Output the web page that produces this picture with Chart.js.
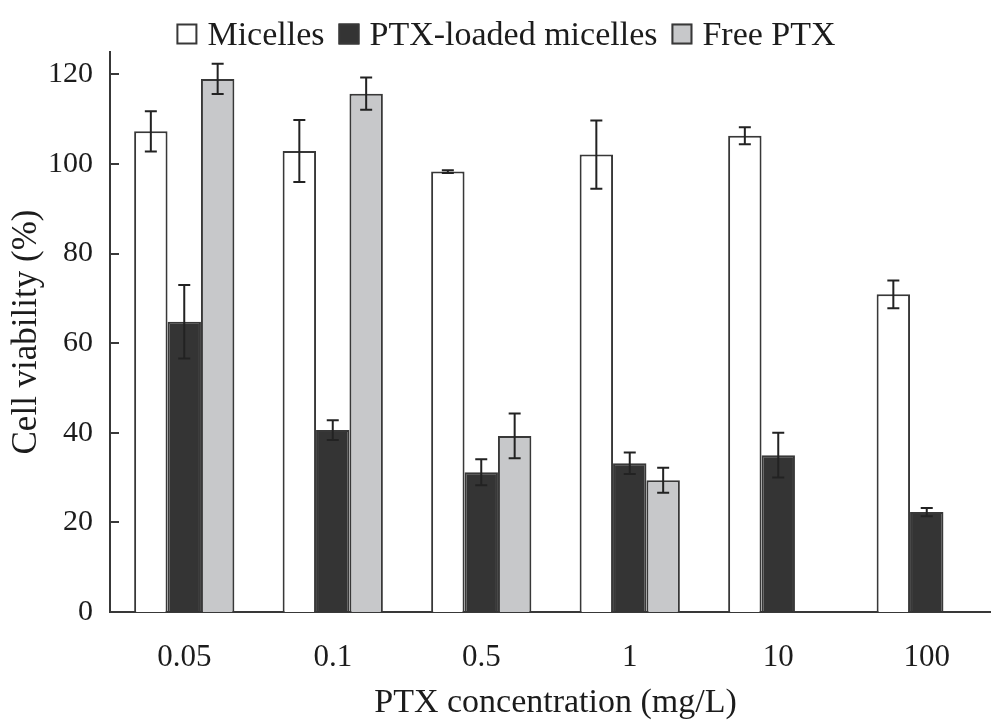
<!DOCTYPE html>
<html>
<head>
<meta charset="utf-8">
<script src="https://cdn.jsdelivr.net/npm/chart.js@4.4.1/dist/chart.umd.min.js"></script>
<style>
  html, body { margin: 0; padding: 0; background: #fff; overflow: hidden; }
  #wrap { width: 1002px; height: 720px; }
</style>
</head>
<body>
<div id="wrap"><canvas id="c" width="1002" height="720"></canvas></div>
<script>
// PTX concentrations (mg/L)
const categories = ['0.05', '0.1', '0.5', '1', '10', '100'];

// Cell viability (%) and standard deviations
const micelles      = [107.3, 102.9, 98.3, 102.1, 106.3, 70.9];
const micellesErr   = [4.5, 6.9, 0.3, 7.6, 1.9, 3.1];
const loaded        = [64.8, 40.6, 31.2, 33.2, 35.0, 22.3];
const loadedErr     = [8.2, 2.2, 2.9, 2.4, 5.0, 0.9];
const freePTX       = [119.0, 115.7, 39.3, 29.4, null, null];
const freePTXErr    = [3.4, 3.6, 5.0, 2.8, null, null];

const yTicks = [0, 20, 40, 60, 80, 100, 120];

const SERIF = "'Liberation Serif', 'Times New Roman', serif";
const INK = '#1c1c1c';
const EDGE = '#383838';

// Error bars with short caps, centered on each bar
const errorBars = {
  id: 'errorBars',
  afterDatasetsDraw(chart) {
    const { ctx } = chart;
    const y = chart.scales.y;
    chart.data.datasets.forEach((ds, i) => {
      const meta = chart.getDatasetMeta(i);
      meta.data.forEach((bar, j) => {
        const v = ds.data[j];
        const e = ds.errors[j];
        if (v == null || e == null) return;
        const top = y.getPixelForValue(v + e);
        const bot = y.getPixelForValue(v - e);
        ctx.save();
        ctx.strokeStyle = '#222';
        ctx.lineWidth = 2;
        ctx.beginPath();
        ctx.moveTo(bar.x, top); ctx.lineTo(bar.x, bot);
        ctx.moveTo(bar.x - 6, top); ctx.lineTo(bar.x + 6, top);
        ctx.moveTo(bar.x - 6, bot); ctx.lineTo(bar.x + 6, bot);
        ctx.stroke();
        ctx.restore();
      });
    });
  }
};

// Inward tick marks on the value axis
const innerTicks = {
  id: 'innerTicks',
  afterDraw(chart) {
    const { ctx, chartArea } = chart;
    const y = chart.scales.y;
    ctx.save();
    ctx.strokeStyle = EDGE;
    ctx.lineWidth = 2;
    ctx.beginPath();
    yTicks.forEach(v => {
      const py = Math.round(y.getPixelForValue(v));
      ctx.moveTo(chartArea.left, py);
      ctx.lineTo(chartArea.left + 9, py);
    });
    ctx.stroke();
    ctx.restore();
  }
};

// Single-row legend across the top: square swatch followed by the series name
const topLegend = {
  id: 'topLegend',
  afterDraw(chart) {
    const { ctx } = chart;
    const box = 21, gapText = 10, gapItem = 14;
    const baseline = 44.5, centerX = 506;
    ctx.save();
    ctx.font = '34px ' + SERIF;
    ctx.textBaseline = 'alphabetic';
    ctx.textAlign = 'left';
    const items = chart.data.datasets.map(ds => ({
      ds, w: ctx.measureText(ds.label).width
    }));
    const total = items.reduce((s, it) => s + box + gapText + it.w, 0) + gapItem * (items.length - 1);
    let x = centerX - total / 2;
    items.forEach(({ ds, w }) => {
      ctx.fillStyle = ds.backgroundColor;
      ctx.fillRect(x, baseline - box, box, box);
      ctx.strokeStyle = ds.borderColor;
      ctx.lineWidth = 2;
      ctx.strokeRect(x + 1, baseline - box + 1, box - 2, box - 2);
      ctx.fillStyle = INK;
      ctx.fillText(ds.label, x + box + gapText, baseline);
      x += box + gapText + w + gapItem;
    });
    ctx.restore();
  }
};

new Chart(document.getElementById('c'), {
  type: 'bar',
  data: {
    labels: categories,
    datasets: [
      { label: 'Micelles', data: micelles, errors: micellesErr,
        backgroundColor: '#ffffff', borderColor: EDGE, borderWidth: 2 },
      { label: 'PTX-loaded micelles', data: loaded, errors: loadedErr,
        backgroundColor: '#343434', borderColor: EDGE, borderWidth: 2 },
      { label: 'Free PTX', data: freePTX, errors: freePTXErr,
        backgroundColor: '#c7c8ca', borderColor: EDGE, borderWidth: 2 }
    ]
  },
  options: {
    responsive: false,
    animation: false,
    devicePixelRatio: 1,
    layout: { padding: { top: 52, right: 1, bottom: 0, left: 0 } },
    datasets: { bar: { categoryPercentage: 0.675, barPercentage: 1.0 } },
    plugins: {
      legend: { display: false },
      tooltip: { enabled: false }
    },
    scales: {
      x: {
        grid: { display: false, drawTicks: false },
        border: { display: true, color: EDGE, width: 2 },
        ticks: { font: { family: SERIF, size: 31 }, color: INK, padding: 27 },
        title: {
          display: true, text: 'PTX concentration (mg/L)',
          font: { family: SERIF, size: 34, lineHeight: 1 }, color: INK,
          padding: { top: 0, bottom: 0 }
        },
        afterFit(scale) { scale.height = 108; }
      },
      y: {
        min: 0, max: 125,
        grid: { display: false, drawTicks: false },
        border: { display: true, color: EDGE, width: 2 },
        ticks: { font: { family: SERIF, size: 30 }, color: INK, padding: 17 },
        afterBuildTicks(scale) { scale.ticks = yTicks.map(v => ({ value: v })); },
        title: {
          display: true, text: 'Cell viability (%)',
          font: { family: SERIF, size: 35, lineHeight: 1 }, color: INK,
          padding: { top: 9, bottom: 0 }
        },
        afterFit(scale) { scale.width = 110; }
      }
    }
  },
  plugins: [errorBars, innerTicks, topLegend]
});
</script>
</body>
</html>
